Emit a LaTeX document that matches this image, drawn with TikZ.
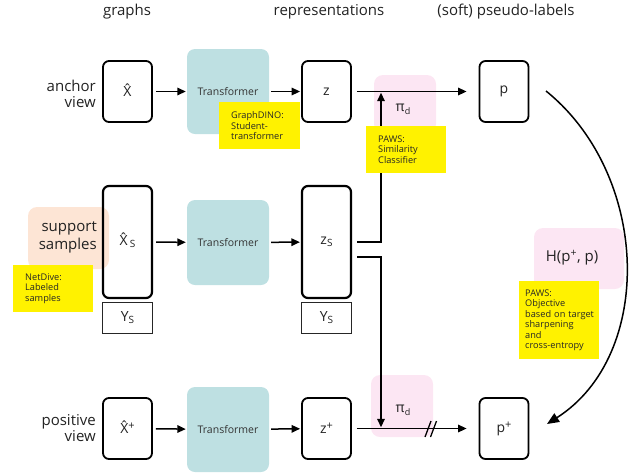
\documentclass[tikz,border=0pt]{standalone}
\usepackage{fontspec}
\setmainfont{Open Sans}
\usetikzlibrary{arrows.meta}
\definecolor{tealbg}{HTML}{BEE0E2}
\definecolor{pinkbg}{HTML}{FCE6F3}
\definecolor{peachbg}{HTML}{FDE5D5}
\definecolor{notebg}{HTML}{FFF200}
\definecolor{ink}{HTML}{222222}
\newcommand{\subS}{\raisebox{-2pt}{\fontsize{10}{10}\selectfont S}}
\newcommand{\supP}{\raisebox{4pt}{\fontsize{11}{11}\selectfont +}}
\newcommand{\pid}{π\raisebox{-3pt}{\fontsize{9}{9}\selectfont d}}
\newcommand{\Xh}{\ooalign{X\cr\hidewidth\raisebox{2.5pt}{ˆ}\hidewidth\cr}}
\begin{document}
\begin{tikzpicture}[x=1pt,y=-1pt,
  every node/.style={text=ink},
  hdr/.style={font=\fontsize{15}{16}\selectfont},
  side/.style={font=\fontsize{15}{16}\selectfont, align=right, anchor=east, inner sep=0pt},
  vbox/.style={draw=black, line width=1.8pt, rounded corners=6pt, minimum width=49pt, minimum height=61pt, inner sep=0pt, font=\fontsize{14}{16}\selectfont},
  tallbox/.style={vbox, minimum height=112pt, line width=2.2pt},
  lblbox/.style={draw=black!85, line width=1.1pt, minimum width=50pt, minimum height=31pt, inner sep=0pt, font=\fontsize{14}{16}\selectfont},
  tfbox/.style={fill=tealbg, rounded corners=8pt, minimum width=82pt, minimum height=85pt, inner sep=0pt, font=\fontsize{10.5}{12}\selectfont, text=black!80},
  pinkbox/.style={fill=pinkbg, rounded corners=9pt, inner sep=0pt},
  note/.style={fill=notebg, align=left, anchor=north west, font=\fontsize{9.2}{10.5}\selectfont, inner ysep=0pt, text=black!85},
  arr/.style={-{Triangle[length=8.5pt,width=7.5pt]}, line width=1.5pt, draw=black},
]
\useasboundingbox (0,0) rectangle (636,472);

% headers
\node[hdr] (h1) at (127,12) {graphs};
\node[hdr] (h2) at (329,12) {representations};
\node[hdr] (h3) at (506,12) {(soft) pseudo-labels};

% background patches
\node[pinkbox, minimum width=62pt, minimum height=58pt] (pk1) at (405,104) {};
\node[pinkbox, minimum width=62pt, minimum height=62pt] (pk2) at (402,406) {};
\node[pinkbox, minimum width=90pt, minimum height=61pt] (hbox) at (579,258.5) {};
\node[fill=peachbg, rounded corners=9pt, minimum width=81pt, minimum height=62pt, inner sep=0pt] (peach) at (68.5,238) {};

% side labels
\node[side] (av) at (96,93.5) {anchor\\view};
\node[side, font=\fontsize{15}{18}\selectfont] (ss) at (97,237) {support\\samples};
\node[side] (pv) at (96,428.5) {positive\\view};

% top row
\node[vbox] (xa) at (127.5,91.5) {\Xh};
\node[tfbox] (ta) at (228,91.5) {Transformer};
\node[vbox] (za) at (326.5,91.5) {z};
\node[vbox] (pa) at (504,91.5) {p};

% middle row
\node[tallbox] (xs) at (127.5,242) {\Xh\,\subS};
\node[lblbox] (yl) at (127.5,318) {Y\subS};
\node[tfbox] (ts) at (228,242.5) {Transformer};
\node[tallbox] (zs) at (326.5,242) {z\subS};
\node[lblbox] (yr) at (326.5,318) {Y\subS};

% bottom row
\node[vbox] (xp) at (127.5,428.5) {\Xh\supP};
\node[tfbox] (tp) at (228,429.5) {Transformer};
\node[vbox] (zp) at (326.5,428.5) {z\supP};
\node[vbox] (pp) at (504,428.5) {p\supP};

% pi labels
\node[font=\fontsize{14}{16}\selectfont] (pi1) at (403,109) {\pid};
\node[font=\fontsize{14}{16}\selectfont] (pi2) at (403,410) {\pid};
\node[font=\fontsize{15}{16}\selectfont] (htxt) at (572,258) {H(p\textsuperscript{+}, p)};

% connectors
\draw[arr, shorten <=3pt, shorten >=1pt] (xa) -- (ta);
\draw[arr, shorten <=2pt, shorten >=1pt] (ta) -- (za);
\draw[arr, shorten <=5pt, shorten >=12pt] (za) -- (pa);
\draw[arr, shorten <=3pt, shorten >=1pt] (xs) -- (ts);
\draw[arr, shorten <=2pt, shorten >=1pt] (ts) -- (zs);
\draw[arr, shorten <=3pt, shorten >=1pt] (xp) -- (tp);
\draw[arr, shorten <=2pt, shorten >=1pt] (tp) -- (zp);
\draw[arr, shorten <=5pt, shorten >=12pt] (zp) -- (pp);

\coordinate (mt) at (381,91.5);
\coordinate (mb) at (381,428.5);
\draw[arr, shorten <=5pt, shorten >=1.2pt] (zs.east) -| (mt);
\draw[arr, shorten <=5pt, shorten >=1.2pt] ([yshift=-15pt]zs.east) -| (mb);

% break marks
\draw[line width=1.3pt] (425,437) -- (431,421);
\draw[line width=1.3pt] (430.5,437) -- (436.5,421);

% curved arrow
\coordinate (cs) at (546,91);
\coordinate (ce) at (547,424);
\draw[-{Triangle[length=12pt,width=10pt]}, line width=1.5pt] (cs) .. controls (650,175) and (655,355) .. (ce);

% notes
\node[note, inner xsep=12pt, text width=57pt, minimum width=81pt, minimum height=47pt] (n1) at (219,102) {GraphDINO:\\Student-\\transformer};
\node[note, inner xsep=12pt, text width=56pt, minimum width=80pt, minimum height=47pt] (n2) at (366,126) {PAWS:\\Similarity\\Classifier};
\node[note, inner xsep=12pt, text width=56pt, minimum width=80pt, minimum height=47pt] (n3) at (13,265) {NetDive:\\Labeled\\samples};
\node[note, inner xsep=6pt, text width=68pt, minimum width=80pt, minimum height=78pt] (n4) at (519,281) {PAWS:\\Objective\\\mbox{based on target}\\sharpening\\and\\cross-entropy};
\end{tikzpicture}
\end{document}
